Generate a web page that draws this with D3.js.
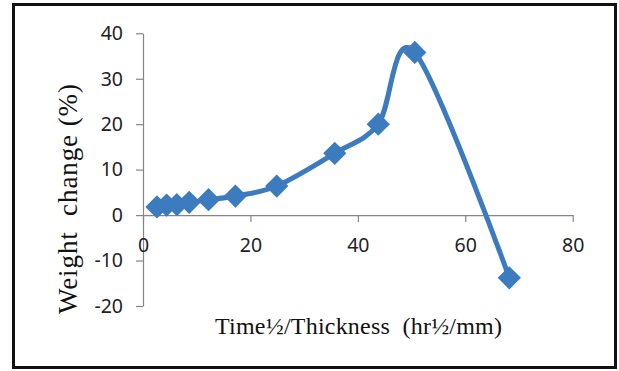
<!DOCTYPE html>
<html>
<head>
<meta charset="utf-8">
<script src="https://cdn.jsdelivr.net/npm/d3@7"></script>
<style>
  body { margin: 0; background: #fff; }
  .tick text { font-family: "Noto Sans", sans-serif; font-size: 19.5px; fill: #222; }
  .axis path, .axis line { stroke: #868686; stroke-width: 1.2; }
  .axisTitle { font-family: "Liberation Serif", "Times New Roman", serif; fill: #111; white-space: pre; }
</style>
</head>
<body>
<div id="chart"></div>
<script>
// values
var xValues = [2.6, 4.4, 6.3, 8.6, 12.2, 17.2, 24.9, 35.7, 43.8, 50.6, 68.2];
var yValues = [1.8, 2.2, 2.3, 2.8, 3.4, 4.2, 6.4, 13.6, 20.0, 35.8, -13.8];
var xTicks = [0, 20, 40, 60, 80];
var yTicks = [-20, -10, 0, 10, 20, 30, 40];

var svgWidth = 619;
var svgHeight = 371;
var plot = { left: 143, right: 572.7, top: 33.3, bottom: 306 };

var data = xValues.map(function(x, i) { return { x: x, y: yValues[i] }; });

var svg = d3.select("#chart")
    .append("svg")
    .attr("width", svgWidth)
    .attr("height", svgHeight);

// outer frame
svg.append("rect")
    .attr("x", 13.5)
    .attr("y", 4.5)
    .attr("width", 602)
    .attr("height", 363)
    .attr("fill", "none")
    .attr("stroke", "#111")
    .attr("stroke-width", 3);

var xScale = d3.scaleLinear().domain([0, 80]).range([plot.left, plot.right]);
var yScale = d3.scaleLinear().domain([-20, 40]).range([plot.bottom, plot.top]);

// plain hyphen for negatives, like the original
var fmt = d => String(d);

// y axis
var yAxis = svg.append("g")
    .attr("class", "axis")
    .attr("transform", `translate(${plot.left},0)`)
    .call(d3.axisLeft(yScale).tickValues(yTicks).tickFormat(fmt).tickSize(7).tickSizeOuter(0).tickPadding(13));

// x axis sits on y = 0
var xAxis = svg.append("g")
    .attr("class", "axis")
    .attr("transform", `translate(0,${yScale(0)})`)
    .call(d3.axisBottom(xScale).tickValues(xTicks).tickFormat(fmt).tickSize(7).tickSizeOuter(0).tickPadding(18));

xAxis.selectAll(".tick text").attr("dy", "0.6em");

// smooth line like the spreadsheet one
var line = d3.line()
    .x(d => xScale(d.x))
    .y(d => yScale(d.y))
    .curve(d3.curveCardinal.tension(0));

svg.append("path")
    .datum(data)
    .attr("d", line)
    .attr("fill", "none")
    .attr("stroke", "#3d7bbf")
    .attr("stroke-width", 5);

// diamond markers
var diamond = d3.symbol().type(d3.symbolSquare).size(270);
svg.append("g")
    .selectAll("path")
    .data(data)
    .enter()
    .append("path")
    .attr("d", diamond)
    .attr("transform", d => `translate(${xScale(d.x)},${yScale(d.y)}) rotate(45)`)
    .attr("fill", "#3d7bbf");

// axis titles
svg.append("text")
    .attr("class", "axisTitle")
    .attr("x", 215)
    .attr("y", 334)
    .attr("font-size", 24)
    .attr("textLength", 287)
    .attr("lengthAdjust", "spacing")
    .text("Time½/Thickness  (hr½/mm)");

svg.append("text")
    .attr("class", "axisTitle")
    .attr("transform", "translate(77,314) rotate(-90)")
    .attr("font-size", 27)
    .attr("textLength", 230)
    .attr("lengthAdjust", "spacing")
    .text("Weight  change (%)");
</script>
</body>
</html>
